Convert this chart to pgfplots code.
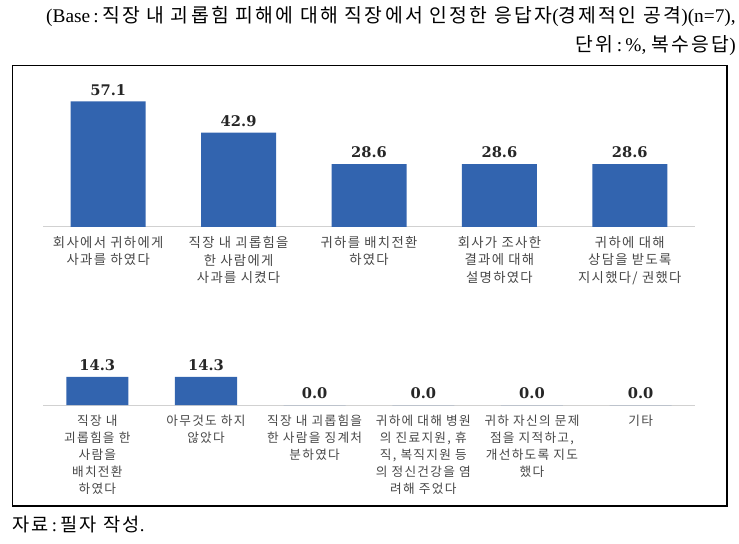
\documentclass[border=0pt]{standalone}
\usepackage{pgfplots}
\pgfplotsset{compat=1.18}
\usepackage{fontspec}
\setmainfont{Liberation Serif}
\newfontfamily\cjk[LetterSpace=12]{Noto Sans CJK KR}
\newfontfamily\cjklab[LetterSpace=10]{Noto Sans CJK KR}
\newfontfamily\valfont{DejaVu Serif}
\definecolor{barblue}{RGB}{50,100,175}
\begin{document}
\begin{tikzpicture}
\path[use as bounding box] (0,0) rectangle (554.25pt,407.25pt);
\node[anchor=east, inner sep=0] at (552pt,394.5pt) {\fontsize{14.5}{16}\selectfont (Base\,:\,{\cjk 직장 내 괴롭힘 피해에 대해 직장에서 인정한 응답자}({\cjk 경제적인 공격})(n=7),};
\node[anchor=east, inner sep=0] at (552pt,372.75pt) {\fontsize{14.5}{16}\selectfont {\cjk 단위}\,:\,\%, {\cjk 복수응답})};
\draw[line width=1pt] (9.375pt,358.125pt) rectangle (545.25pt,27.75pt);
\node[anchor=west, inner sep=0] at (9pt,13.5pt) {\fontsize{14}{16}\selectfont {\cjk 자료}\,:\,{\cjk 필자 작성}.};
\pgfplotsset{mybars/.style={
  anchor=south west, scale only axis, clip=false,
  ybar, ymin=0,
  axis x line=bottom, axis y line=none,
  x axis line style={-, draw=black!18, line width=0.75pt},
  xtick=data, xtick style={draw=none},
  xticklabel style={align=center, font=\cjklab\fontsize{10}{13}\selectfont, text=black!72, yshift=-1.5pt},
  ytick=\empty,
  nodes near coords,
  every node near coord/.append style={font=\valfont\bfseries\fontsize{11}{13}\selectfont, text=black!85, yshift=1pt},
  /pgf/number format/.cd, fixed, fixed zerofill, precision=1, assume math mode=true,
}}
\begin{axis}[mybars, at={(32.25pt,237pt)}, width=489pt, height=107.25pt,
  xmin=-0.5, xmax=4.5, ymax=65, bar width=56.25pt,
  xticklabels={{회사에서 귀하에게\\사과를 하였다},{직장 내 괴롭힘을\\한 사람에게\\사과를 시켰다},{귀하를 배치전환\\하였다},{회사가 조사한\\결과에 대해\\설명하였다},{귀하에 대해\\상담을 받도록\\지시했다/ 권했다}}]
\addplot[fill=barblue, draw=none] coordinates {(0,57.1) (1,42.9) (2,28.6) (3,28.6) (4,28.6)};
\end{axis}
\begin{axis}[mybars, at={(32.25pt,103.5pt)}, width=489pt, height=29.4pt,
  xmin=-0.5, xmax=5.5, ymax=20, bar width=46.5pt,
  xticklabel style={font=\cjklab\fontsize{9.5}{12.75}\selectfont},
  xticklabels={{직장 내\\괴롭힘을 한\\사람을\\배치전환\\하였다},{아무것도 하지\\않았다},{직장 내 괴롭힘을\\한 사람을 징계처\\분하였다},{귀하에 대해 병원\\의 진료지원, 휴\\직, 복직지원 등\\의 정신건강을 염\\려해 주었다},{귀하 자신의 문제\\점을 지적하고,\\개선하도록 지도\\했다},{기타}}]
\addplot[fill=barblue, draw=none] coordinates {(0,14.3) (1,14.3) (2,0.0) (3,0.0) (4,0.0) (5,0.0)};
\end{axis}
\end{tikzpicture}
\end{document}
